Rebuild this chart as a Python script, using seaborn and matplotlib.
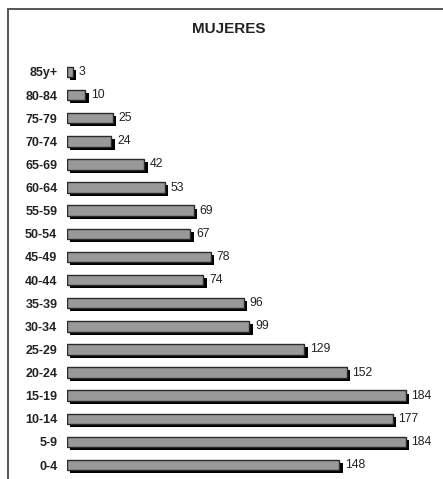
import matplotlib
matplotlib.use("Agg")
import matplotlib.pyplot as plt
import matplotlib.patheffects as pe
from matplotlib.lines import Line2D
import seaborn as sns
import pandas as pd

# Female population by age group
age_groups = ["85y+", "80-84", "75-79", "70-74", "65-69", "60-64", "55-59",
              "50-54", "45-49", "40-44", "35-39", "30-34", "25-29", "20-24",
              "15-19", "10-14", "5-9", "0-4"]
women = [3, 10, 25, 24, 42, 53, 69, 67, 78, 74, 96, 99, 129, 152,
         184, 177, 184, 148]

df = pd.DataFrame({"grupo": age_groups, "mujeres": women})

sns.set_theme(style="white")
plt.rcParams["font.family"] = ["Liberation Sans", "DejaVu Sans"]

W, H = 443, 479
fig = plt.figure(figsize=(W / 100, H / 100), dpi=100)
fig.patch.set_facecolor("white")

# axes placed in pixel units
left_px, right_px = 67, 443
top_px, bottom_px = 60.4, 476.6
ax = fig.add_axes([left_px / W, 1 - bottom_px / H,
                   (right_px - left_px) / W, (bottom_px - top_px) / H])

sns.barplot(data=df, x="mujeres", y="grupo", orient="h", ax=ax,
            color="#999999", edgecolor="#2a2a2a", linewidth=1.0,
            width=0.45, saturation=1)

for bar in ax.patches:
    bar.set_path_effects([
        pe.SimplePatchShadow(offset=(2.5, -2.2), shadow_rgbFace="black",
                             alpha=1.0),
        pe.Normal(),
    ])

ax.bar_label(ax.containers[0], labels=[str(v) for v in women], padding=4.2,
             fontsize=8.8, color="#222222")

ax.set_xlim(0, (right_px - left_px) / 1.84)
ax.set_ylim(17.5, -0.5)
ax.set_xlabel("")
ax.set_ylabel("")
ax.set_xticks([])
ax.tick_params(axis="y", length=0, pad=7)
for lbl in ax.get_yticklabels():
    lbl.set_fontweight("bold")
    lbl.set_fontsize(9.0)
    lbl.set_color("#222222")
for s in ax.spines.values():
    s.set_visible(False)
ax.set_facecolor("none")

# title
fig.text(228.5 / W, 1 - 29 / H, "MUJERES", ha="center", va="center",
         fontsize=11, fontweight="bold", color="#222222")

# frame lines along top and left edge
fx, fy = 7.5 / W, 1 - 9 / H
fig.add_artist(Line2D([fx, fx], [0, fy], transform=fig.transFigure,
                      color="#555555", linewidth=1.4))
fig.add_artist(Line2D([fx, 1], [fy, fy], transform=fig.transFigure,
                      color="#555555", linewidth=1.4))

fig.savefig("out.png", dpi=100)
